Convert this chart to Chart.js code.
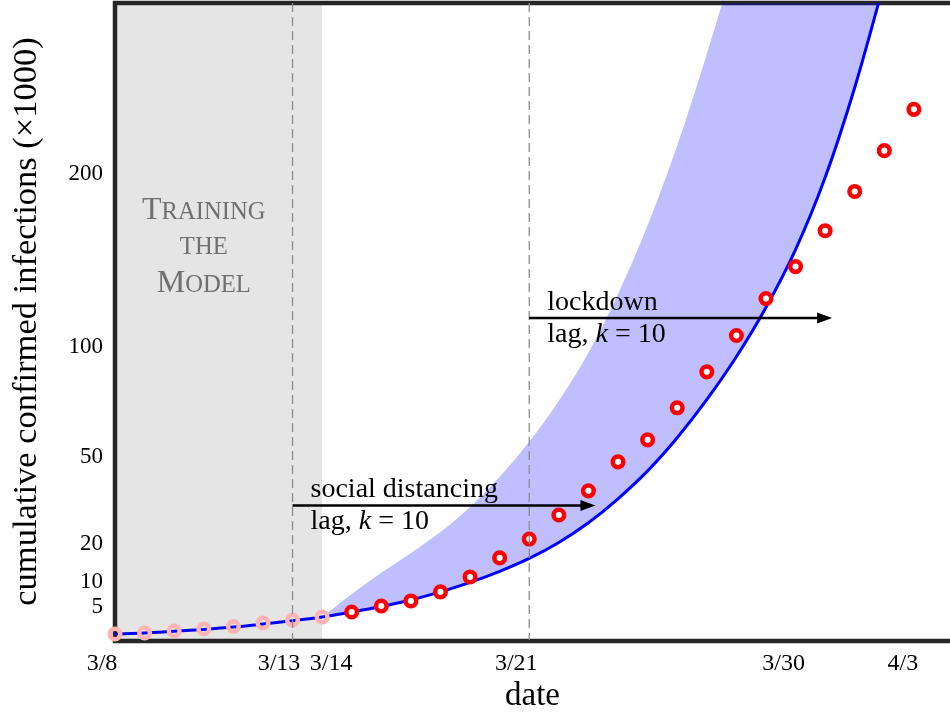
<!DOCTYPE html>
<html>
<head>
<meta charset="utf-8">
<script src="https://cdn.jsdelivr.net/npm/chart.js@4.4.0/dist/chart.umd.min.js"></script>
<style>
  html, body { margin: 0; padding: 0; background: #fff; }
  #wrap { width: 950px; height: 713px; }
</style>
</head>
<body>
<div id="wrap"><canvas id="myChart"></canvas></div>
<script>
// days since 3/8 and cumulative confirmed infections (x1000)
let days = [0, 1, 2, 3, 4, 5, 6, 7, 8, 9, 10, 11, 12, 13, 14, 15, 16, 17, 18, 19, 20, 21, 22, 23, 24, 25, 26, 27];
let observed = [1.08, 1.19, 1.41, 1.65, 1.96, 2.43, 2.85, 3.30, 4.1, 5.14, 6.07, 7.87, 11.2, 16.0, 21.3, 28.8, 37.1, 48.0, 56.9, 70.8, 87.6, 105.8, 125.5, 143.5, 164.7, 189.0, 215.5, 243.5];

// fitted model and the upper edge of its range (last values run off the top)
let modelDays = [0, 1, 2, 3, 4, 5, 6, 7, 8, 9, 10, 11, 12, 13, 14, 15, 16, 17, 18, 19, 20, 21, 22, 23, 24, 25, 26];
let model = [1.08, 1.20, 1.39, 1.60, 1.88, 2.28, 2.74, 3.30, 4.1, 5.05, 6.26, 7.87, 9.93, 12.55, 15.86, 20.3, 26.3, 34.3, 44.5, 57.8, 74.5, 95.0, 120.6, 153.4, 197.9, 258.8, 337];
let bandDays = [7, 8, 9, 10, 11, 12, 13, 14, 15, 16, 17, 18, 19, 20, 21, 22, 23, 24, 25, 26];
let bandUpper = [3.30, 7.45, 12.2, 17.35, 23.45, 31.5, 42.3, 56.1, 74, 97, 128, 168, 219, 283, 360, 460, 590, 750, 950, 1200];

let tickDays = [0, 6, 7, 14, 23, 27];
let tickLabels = ['3/8', '3/13', '3/14', '3/21', '3/30', '4/3'];
let yTicks = [5, 10, 20, 50, 100, 200];

let trainingDays = 7;          // points 0..7 were used to fit
let policyDays = [6, 14];
let policyNames = ['social distancing', 'lockdown'];
let policyLag = 10;

const yPower = 0.65;
const serif = '"Liberation Serif", "Times New Roman", serif';

// y axis with a power law spacing
class PowerScale extends Chart.LinearScale {
	getPixelForValue(value) {
		if (value === null || value === undefined || isNaN(value)) return NaN;
		const lo = Math.pow(this.min, yPower), hi = Math.pow(this.max, yPower);
		return this.getPixelForDecimal((Math.pow(Math.max(value, 0), yPower) - lo) / (hi - lo));
	}
	getValueForPixel(pixel) {
		const lo = Math.pow(this.min, yPower), hi = Math.pow(this.max, yPower);
		return Math.pow(lo + this.getDecimalForPixel(pixel) * (hi - lo), 1 / yPower);
	}
}
PowerScale.id = 'power';
PowerScale.defaults = Chart.LinearScale.defaults;
Chart.register(PowerScale);

function smallCaps(ctx, text, cx, baseline, size) {
	const parts = [];
	let w = 0;
	for (const ch of text) {
		const s = ch === ch.toUpperCase() ? size : size * 0.77;
		ctx.font = s + 'px ' + serif;
		const cw = ctx.measureText(ch.toUpperCase()).width;
		parts.push([ch.toUpperCase(), s, cw]);
		w += cw;
	}
	let x = cx - w / 2;
	parts.forEach(p => {
		ctx.font = p[1] + 'px ' + serif;
		ctx.fillText(p[0], x, baseline);
		x += p[2];
	});
}

const decorations = {
	id: 'decorations',
	beforeDatasetsDraw(chart) {
		const {ctx, chartArea: a, scales: {x}} = chart;
		ctx.save();
		ctx.fillStyle = '#e5e5e5';
		ctx.fillRect(a.left, a.top, x.getPixelForValue(trainingDays) - a.left, a.bottom - a.top);
		ctx.strokeStyle = '#262626';
		ctx.lineWidth = 4.5;
		ctx.beginPath();
		ctx.moveTo(chart.width + 5, a.top);
		ctx.lineTo(a.left, a.top);
		ctx.lineTo(a.left, a.bottom + 1);
		ctx.lineTo(chart.width + 5, a.bottom + 1);
		ctx.stroke();
		ctx.restore();
	},
	afterDatasetsDraw(chart) {
		const {ctx, chartArea: a, scales: {x, y}} = chart;
		const arrowLevels = [32, 115];
		const tickNudge = [-13, -13.5, 9, -13, -12, -11];
		ctx.save();

		// policy dates
		ctx.strokeStyle = '#8c8c8c';
		ctx.lineWidth = 1.3;
		ctx.setLineDash([9, 5]);
		policyDays.forEach(d => {
			const px = x.getPixelForValue(d);
			ctx.beginPath();
			ctx.moveTo(px, a.top);
			ctx.lineTo(px, a.bottom);
			ctx.stroke();
		});
		ctx.setLineDash([]);

		// lag arrows
		ctx.textAlign = 'left';
		ctx.textBaseline = 'alphabetic';
		policyDays.forEach((d, i) => {
			const x0 = x.getPixelForValue(d);
			const x1 = x.getPixelForValue(d + policyLag) + 7;
			const py = y.getPixelForValue(arrowLevels[i]);
			ctx.strokeStyle = '#000';
			ctx.fillStyle = '#000';
			ctx.lineWidth = 2.6;
			ctx.beginPath();
			ctx.moveTo(x0, py);
			ctx.lineTo(x1 - 10, py);
			ctx.stroke();
			ctx.beginPath();
			ctx.moveTo(x1, py);
			ctx.lineTo(x1 - 15, py - 5.5);
			ctx.lineTo(x1 - 15, py + 5.5);
			ctx.closePath();
			ctx.fill();

			const tx = x0 + 18;
			ctx.font = '28px ' + serif;
			ctx.fillText(policyNames[i], tx, py - 8);
			let cx = tx;
			ctx.fillText('lag, ', cx, py + 23.5);
			cx += ctx.measureText('lag, ').width;
			ctx.font = 'italic 28px ' + serif;
			ctx.fillText('k', cx, py + 23.5);
			cx += ctx.measureText('k').width;
			ctx.font = '28px ' + serif;
			ctx.fillText(' = ' + policyLag, cx, py + 23.5);
		});

		// training label
		ctx.fillStyle = '#707070';
		const lx = x.getPixelForValue(3);
		smallCaps(ctx, 'Training', lx, a.top + 216, 32);
		smallCaps(ctx, 'the', lx, a.top + 251, 32);
		smallCaps(ctx, 'Model', lx, a.top + 289, 32);

		// date ticks
		ctx.fillStyle = '#000';
		ctx.textAlign = 'center';
		ctx.font = '24px ' + serif;
		tickDays.forEach((d, i) => {
			ctx.fillText(tickLabels[i], x.getPixelForValue(d) + tickNudge[i], a.bottom + 30);
		});
		ctx.restore();
	}
};

let myChart = document.getElementById('myChart').getContext('2d');

let chart = new Chart(myChart, {
	type: 'line',
	data: {
		datasets: [
		{
			label: 'confirmed',
			data: days.map((d, i) => ({x: d, y: observed[i]})),
			showLine: false,
			pointRadius: 5.3,
			pointBorderWidth: 4.5,
			pointBorderColor: days.map(d => d <= trainingDays ? '#ffb4b4' : '#ff0000'),
			pointBackgroundColor: days.map(d => d <= trainingDays ? 'rgba(0,0,0,0)' : '#ffffff'),
			clip: false,
			order: 0
		},
		{
			label: 'model',
			data: modelDays.map((d, i) => ({x: d, y: model[i]})),
			borderColor: '#0000ff',
			borderWidth: 3,
			pointRadius: 0,
			cubicInterpolationMode: 'monotone',
			fill: false,
			order: 1
		},
		{
			label: 'range',
			data: bandDays.map((d, i) => ({x: d, y: bandUpper[i]})),
			borderWidth: 0,
			borderColor: 'rgba(0,0,0,0)',
			pointRadius: 0,
			cubicInterpolationMode: 'monotone',
			backgroundColor: 'rgba(0,0,255,0.25)',
			fill: 1,
			order: 2
		}
		]
	},
	options: {
		responsive: true,
		maintainAspectRatio: false,
		animation: false,
		layout: { autoPadding: false, padding: { top: 3, left: 0, right: 0, bottom: 0 } },
		plugins: {
			legend: { display: false },
			tooltip: { enabled: false }
		},
		scales: {
			x: {
				type: 'linear',
				min: 0,
				max: 28.22,
				grid: { display: false },
				border: { display: false },
				ticks: { display: false },
				title: {
					display: true,
					text: 'date',
					color: '#000',
					font: { family: serif, size: 33, lineHeight: 1 },
					padding: { top: 0, bottom: 0 }
				},
				afterFit: s => { s.height = 73; s.paddingLeft = 0; s.paddingRight = 0; }
			},
			y: {
				type: 'power',
				min: 0.526,
				max: 321,
				grid: { display: false, drawTicks: false },
				border: { display: false },
				afterBuildTicks: s => { s.ticks = yTicks.map(v => ({value: v})); },
				ticks: {
					autoSkip: false,
					padding: 12,
					color: '#000',
					font: { family: serif, size: 23 },
					callback: v => String(v)
				},
				title: {
					display: true,
					text: 'cumulative confirmed infections (×1000)',
					color: '#000',
					font: { family: serif, size: 34.5, lineHeight: 1 },
					padding: { top: 10, bottom: 0 }
				},
				afterFit: s => { s.width = 115; s.paddingTop = 0; s.paddingBottom = 0; }
			}
		}
	},
	plugins: [decorations]
});
</script>
</body>
</html>
